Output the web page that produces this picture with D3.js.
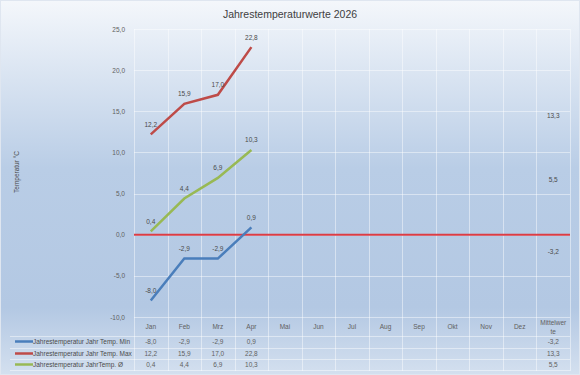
<!DOCTYPE html>
<html>
<head>
<meta charset="utf-8">
<script src="https://cdn.jsdelivr.net/npm/d3@7"></script>
<style>
  body { margin: 0; background: #fff; }
  svg text { font-family: "Liberation Sans", "DejaVu Sans", sans-serif; }
</style>
</head>
<body>
<svg id="chart" width="580" height="375"></svg>
<script>
"use strict";

// Kategorien und Werte
const months = ["Jan", "Feb", "Mrz", "Apr", "Mai", "Jun", "Jul", "Aug", "Sep", "Okt", "Nov", "Dez", "Mittelwerte"];
const minTemps = [-8.0, -2.9, -2.9, 0.9, null, null, null, null, null, null, null, null, -3.2];
const maxTemps = [12.2, 15.9, 17.0, 22.8, null, null, null, null, null, null, null, null, 13.3];
const avgTemps = [0.4, 4.4, 6.9, 10.3, null, null, null, null, null, null, null, null, 5.5];
const seriesNames = ["Jahrestemperatur Jahr Temp. Min", "Jahrestemperatur Jahr Temp. Max", "Jahrestemperatur JahrTemp. Ø"];
const yTicks = [-10, -5, 0, 5, 10, 15, 20, 25];

const colors = ["#4a7ebb", "#be4b48", "#98b954"];
// deutsches Zahlenformat mit normalem Bindestrich
const fmt = v => v.toFixed(1).replace(".", ",");

const svg = d3.select("#chart");
const W = 580, H = 375;

// Hintergrund-Verlauf
const defs = svg.append("defs");
const grad = defs.append("linearGradient")
  .attr("id", "bg").attr("x1", 0).attr("y1", 0).attr("x2", 0).attr("y2", 1);
grad.append("stop").attr("offset", "0%").attr("stop-color", "#f4f7fb");
grad.append("stop").attr("offset", "45%").attr("stop-color", "#b9cde6");
grad.append("stop").attr("offset", "82%").attr("stop-color", "#b3c8e3");
grad.append("stop").attr("offset", "100%").attr("stop-color", "#d4e0ef");

svg.append("rect").attr("width", W).attr("height", H).attr("fill", "url(#bg)");
svg.append("rect").attr("x", 0.5).attr("y", 0.5).attr("width", W - 1).attr("height", H - 1)
  .attr("fill", "none").attr("stroke", "#dfe6f0");

const plotLeft = 134, plotRight = 570, plotTop = 29, plotBottom = 317;

const x = d3.scaleBand().domain(months).range([plotLeft, plotRight]);
const y = d3.scaleLinear().domain([-10, 25]).range([plotBottom, plotTop]);

// Gitterlinien
const grid = svg.append("g").attr("stroke", "#ffffff").attr("stroke-opacity", 0.45).attr("stroke-width", 1);
grid.selectAll(".h").data(yTicks).enter().append("line")
  .attr("x1", plotLeft).attr("x2", plotRight)
  .attr("y1", d => Math.round(y(d)) + 0.5).attr("y2", d => Math.round(y(d)) + 0.5);
const vlines = months.map(m => x(m)).concat([plotRight]);
grid.selectAll(".v").data(vlines).enter().append("line")
  .attr("x1", d => Math.round(d) + 0.5).attr("x2", d => Math.round(d) + 0.5)
  .attr("y1", plotTop).attr("y2", 371);

// Tabellenlinien
const rowLines = [336, 348, 359, 370];
grid.selectAll(".r").data(rowLines).enter().append("line")
  .attr("x1", 10).attr("x2", plotRight)
  .attr("y1", d => d + 0.5).attr("y2", d => d + 0.5);

// Y-Achse
const yAxis = svg.append("g")
  .attr("transform", `translate(${plotLeft - 6},0)`)
  .call(d3.axisLeft(y).tickValues(yTicks).tickSize(0).tickFormat(fmt));
yAxis.select(".domain").remove();
yAxis.selectAll("text").attr("fill", "#606060").style("font-size", "6.5px")
  .style("font-family", "Liberation Sans, sans-serif");

// Nulllinie
svg.append("line")
  .attr("x1", plotLeft).attr("x2", plotRight)
  .attr("y1", y(0)).attr("y2", y(0))
  .attr("stroke", "#dc3c44").attr("stroke-width", 2);

// Kategorien
const cats = svg.append("g").attr("fill", "#606060").style("font-size", "6.5px").attr("text-anchor", "middle");
cats.selectAll("text").data(months.slice(0, 12)).enter().append("text")
  .attr("x", d => x(d) + x.bandwidth() / 2).attr("y", 329).text(d => d);
const lastX = x("Mittelwerte") + x.bandwidth() / 2;
cats.append("text").attr("x", lastX).attr("y", 325).text("Mittelwer");
cats.append("text").attr("x", lastX).attr("y", 334).text("te");

// Linien
const allSeries = [minTemps, maxTemps, avgTemps];
const line = d3.line()
  .defined(d => d != null)
  .x((d, i) => x(months[i]) + x.bandwidth() / 2)
  .y(d => y(d));

allSeries.forEach((vals, s) => {
  svg.append("path")
    .datum(vals)
    .attr("fill", "none")
    .attr("stroke", colors[s])
    .attr("stroke-width", 2.5)
    .attr("d", line);

  svg.append("g").attr("fill", "#4a4a4a").style("font-size", "6.5px").attr("text-anchor", "middle")
    .selectAll("text")
    .data(vals.map((v, i) => ({ v, i })).filter(d => d.v != null))
    .enter().append("text")
    .attr("x", d => x(months[d.i]) + x.bandwidth() / 2)
    .attr("y", d => y(d.v) - 7.5)
    .text(d => fmt(d.v));
});

// Datentabelle
const rowsY = [344, 356, 367];
allSeries.forEach((vals, s) => {
  const g = svg.append("g");
  g.append("line")
    .attr("x1", 15).attr("x2", 33)
    .attr("y1", rowsY[s] - 2.5).attr("y2", rowsY[s] - 2.5)
    .attr("stroke", colors[s]).attr("stroke-width", 2.5);
  g.append("text")
    .attr("x", 33).attr("y", rowsY[s])
    .attr("fill", "#4a4a4a").style("font-size", "6.5px")
    .text(seriesNames[s]);
  g.selectAll(".val")
    .data(vals.map((v, i) => ({ v, i })).filter(d => d.v != null))
    .enter().append("text")
    .attr("x", d => x(months[d.i]) + x.bandwidth() / 2)
    .attr("y", rowsY[s])
    .attr("text-anchor", "middle")
    .attr("fill", "#606060").style("font-size", "6.5px")
    .text(d => fmt(d.v));
});

// Titel
svg.append("text")
  .attr("x", 290).attr("y", 18)
  .attr("text-anchor", "middle")
  .attr("fill", "#404040").style("font-size", "10.5px")
  .text("Jahrestemperaturwerte 2026");

// Y-Achsentitel
svg.append("text")
  .attr("transform", `translate(19,172) rotate(-90)`)
  .attr("text-anchor", "middle")
  .attr("fill", "#4a4a4a").style("font-size", "6.5px")
  .text("Temperatur °C");
</script>
</body>
</html>
